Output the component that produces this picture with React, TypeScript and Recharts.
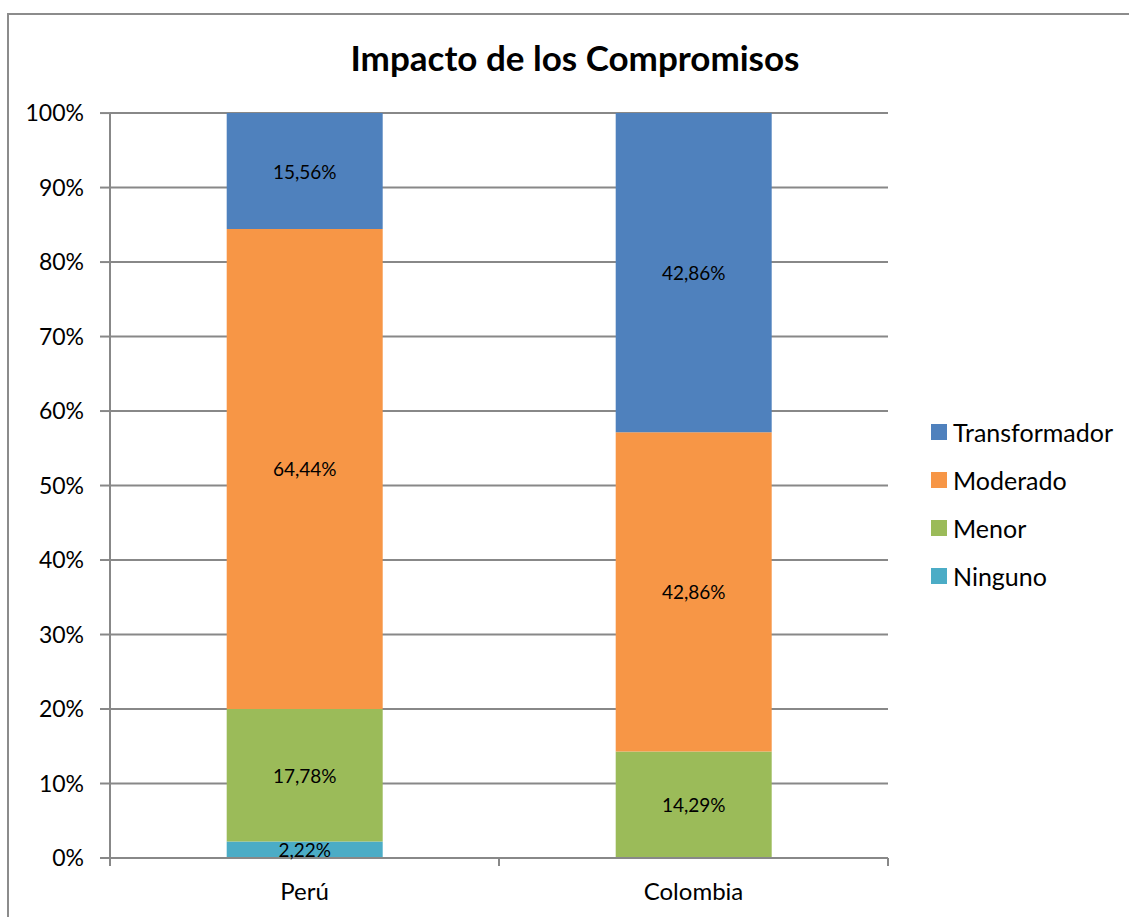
import React from 'react';
import { BarChart, Bar, XAxis, YAxis, CartesianGrid, LabelList } from 'recharts';

const categories = ['Perú', 'Colombia'];
const ninguno = [2.22, 0];
const menor = [17.78, 14.29];
const moderado = [64.44, 42.86];
const transformador = [15.56, 42.86];
const yTicks = [0, 10, 20, 30, 40, 50, 60, 70, 80, 90, 100];

const seriesDefs = [
  { key: 'ninguno', name: 'Ninguno', color: '#4BACC6' },
  { key: 'menor', name: 'Menor', color: '#9BBB59' },
  { key: 'moderado', name: 'Moderado', color: '#F79646' },
  { key: 'transformador', name: 'Transformador', color: '#4F81BD' },
];

const data = categories.map((c, i) => ({
  name: c,
  ninguno: ninguno[i],
  menor: menor[i],
  moderado: moderado[i],
  transformador: transformador[i],
}));

const FONT = 'Lato, "Open Sans", sans-serif';
const AXIS = '#888888';

const fmt = (v: number) => v.toFixed(2).replace('.', ',') + '%';

// label centered in segment, hidden for zero values
const SegmentLabel = (props: any) => {
  const { x, y, width, height, value } = props;
  if (!value) return null;
  return (
    <text
      x={x + width / 2}
      y={y + height / 2}
      textAnchor="middle"
      dominantBaseline="central"
      fontSize={19}
      fontFamily={FONT}
      fill="#000"
    >
      {fmt(value)}
    </text>
  );
};

// category label plus tick marks at band boundaries
const XTick = (props: any) => {
  const { x, y, payload, index, visibleTicksCount } = props;
  const half = payload.offset || 194.5;
  const top = y - 8;
  return (
    <g>
      <line x1={x - half} x2={x - half} y1={top} y2={top + 8} stroke={AXIS} strokeWidth={2} />
      {index === visibleTicksCount - 1 && (
        <line x1={x + half} x2={x + half} y1={top} y2={top + 8} stroke={AXIS} strokeWidth={2} />
      )}
      <text x={x} y={y + 34} textAnchor="middle" fontSize={24} fontFamily={FONT} fill="#000">
        {payload.value}
      </text>
    </g>
  );
};

export default function App() {
  return (
    <div style={{ position: 'absolute', left: 0, top: 0, width: 1129, height: 917, background: '#fff', overflow: 'hidden' }}>
      <div
        style={{
          position: 'absolute',
          left: 7,
          top: 13,
          width: 1140,
          height: 930,
          border: '2px solid #8c8c8c',
          boxSizing: 'border-box',
        }}
      />
      <div
        style={{
          position: 'absolute',
          left: 0,
          top: 36,
          width: 1150,
          textAlign: 'center',
          fontFamily: FONT,
          fontWeight: 'bold',
          fontSize: 35,
          color: '#000',
        }}
      >
        Impacto de los Compromisos
      </div>
      <div style={{ position: 'absolute', left: 0, top: 0 }}>
        <BarChart
          width={1129}
          height={917}
          data={data}
          margin={{ top: 113, right: 241, left: 0, bottom: 19 }}
          barCategoryGap="30%"
        >
          <CartesianGrid vertical={false} stroke={AXIS} strokeWidth={2} />
          <XAxis
            dataKey="name"
            height={40}
            axisLine={{ stroke: AXIS, strokeWidth: 2 }}
            tickLine={false}
            tick={<XTick />}
            interval={0}
          />
          <YAxis
            width={110}
            domain={[0, 100]}
            ticks={yTicks}
            tickFormatter={(v: number) => `${v}%`}
            axisLine={{ stroke: AXIS, strokeWidth: 2 }}
            tickLine={{ stroke: AXIS, strokeWidth: 2 }}
            tickSize={10}
            tickMargin={16}
            tick={{ fontSize: 23, fontFamily: FONT, fill: '#000' }}
          />
          {seriesDefs.map((s) => (
            <Bar key={s.key} dataKey={s.key} stackId="a" fill={s.color} name={s.name} isAnimationActive={false}>
              <LabelList dataKey={s.key} content={<SegmentLabel />} />
            </Bar>
          ))}
        </BarChart>
      </div>
      <div style={{ position: 'absolute', left: 931, top: 408, fontFamily: FONT, fontSize: 25, color: '#000' }}>
        {[...seriesDefs].reverse().map((s) => (
          <div key={s.key} style={{ display: 'flex', alignItems: 'center', height: 48 }}>
            <span style={{ display: 'inline-block', width: 16, height: 16, background: s.color, marginRight: 6 }} />
            <span>{s.name}</span>
          </div>
        ))}
      </div>
    </div>
  );
}
